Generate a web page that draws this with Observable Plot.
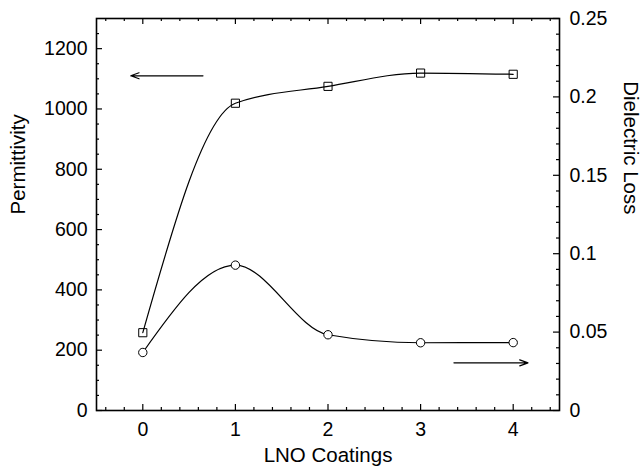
<!DOCTYPE html>
<html>
<head>
<meta charset="utf-8">
<script src="https://cdn.jsdelivr.net/npm/d3@7"></script>
<script src="https://cdn.jsdelivr.net/npm/@observablehq/plot@0.6"></script>
<style>
  html, body { margin: 0; padding: 0; background: #fff; }
  svg { font-family: "Liberation Sans", Arial, sans-serif !important; }
  svg g[aria-label$="tick label"] { font-size: 19.5px !important; }
  svg g[aria-label="text"] { font-size: 20.5px !important; }
</style>
</head>
<body>
<div id="chart"></div>
<script>
const coatings = [0, 1, 2, 3, 4];
const permittivity = [258, 1019, 1075, 1119, 1115];
const dielectricLoss = [0.037, 0.0927, 0.0483, 0.0432, 0.0433];

const xTicks = [0, 1, 2, 3, 4];
const permTicks = [0, 200, 400, 600, 800, 1000, 1200];
const lossTicks = [0, 0.05, 0.1, 0.15, 0.2, 0.25];
const lossTickLabels = ["0", "0.05", "0.1", "0.15", "0.2", "0.25"];

const permMax = 1300;
const lossMax = 0.25;
const k = permMax / lossMax; // map loss onto the permittivity scale

// annotation arrows
const arrowLeft = [{x1: 0.65, x2: -0.13, v: 1110}];
const arrowRight = [{x1: 3.36, x2: 4.16, v: 0.0304}];

const xMinor = d3.range(-0.4, 4.5, 0.2).map(v => Math.round(v * 10) / 10).filter(v => Math.abs(v - Math.round(v)) > 1e-6);
const yMinor = d3.range(50, 1300, 50).filter(v => v % 200 !== 0);
const rMinor = d3.range(1, 25).filter(v => v % 5 !== 0).map(v => v * 0.01 * k);

const permData = coatings.map((c, i) => ({x: c, y: permittivity[i]}));
const lossData = coatings.map((c, i) => ({x: c, y: dielectricLoss[i] * k}));

const pxY = 392 / permMax;
const pxX = 463 / 5;
const chart = Plot.plot({
  width: 644,
  height: 473,
  marginLeft: 96,
  marginRight: 85,
  marginTop: 18,
  marginBottom: 63,
  style: {fontFamily: "Liberation Sans, Arial, sans-serif", fontSize: "19.5px", background: "#fff", color: "#000"},
  x: {domain: [-0.5, 4.5]},
  y: {domain: [0, permMax]},
  marks: [
    // labels
    Plot.axisX({ticks: xTicks, tickSize: 0, tickPadding: 12, fontSize: 19.5, label: null, tickFormat: d => String(d)}),
    Plot.axisY({anchor: "left", ticks: permTicks, tickSize: 0, tickPadding: 9, fontSize: 19.5, label: null, tickFormat: d => String(d)}),
    Plot.axisY({anchor: "right", ticks: lossTicks.map(v => v * k), tickSize: 0, tickPadding: 10, fontSize: 19.5, label: null, tickFormat: (d, i) => lossTickLabels[i]}),
    // inward ticks
    Plot.ruleX(xTicks, {x: d => d, y1: 0, y2: 6 / pxY, stroke: "#000", strokeWidth: 1.2}),
    Plot.ruleX(xTicks, {x: d => d, y1: permMax, y2: permMax - 6 / pxY, stroke: "#000", strokeWidth: 1.2}),
    Plot.ruleX(xMinor, {x: d => d, y1: 0, y2: 3 / pxY, stroke: "#000", strokeWidth: 1.2}),
    Plot.ruleX(xMinor, {x: d => d, y1: permMax, y2: permMax - 3 / pxY, stroke: "#000", strokeWidth: 1.2}),
    Plot.ruleY(permTicks, {y: d => d, x1: -0.5, x2: -0.5 + 6 / pxX, stroke: "#000", strokeWidth: 1.2}),
    Plot.ruleY(yMinor, {y: d => d, x1: -0.5, x2: -0.5 + 3 / pxX, stroke: "#000", strokeWidth: 1.2}),
    Plot.ruleY(lossTicks.map(v => v * k), {y: d => d, x1: 4.5, x2: 4.5 - 6 / pxX, stroke: "#000", strokeWidth: 1.2}),
    Plot.ruleY(rMinor, {y: d => d, x1: 4.5, x2: 4.5 - 3 / pxX, stroke: "#000", strokeWidth: 1.2}),
    Plot.frame({stroke: "#000", strokeWidth: 1.6}),
    // curves
    Plot.line(permData, {x: "x", y: "y", curve: "monotone-x", stroke: "#000", strokeWidth: 1.2}),
    Plot.line(lossData, {x: "x", y: "y", curve: "monotone-x", stroke: "#000", strokeWidth: 1.2}),
    Plot.dot(permData, {x: "x", y: "y", symbol: "square", r: 4.6, stroke: "#000", fill: "none", strokeWidth: 1}),
    Plot.dot(lossData, {x: "x", y: "y", symbol: "circle", r: 4.2, stroke: "#000", fill: "#fff", strokeWidth: 1}),
    // arrows
    Plot.arrow(arrowLeft, {x1: "x1", x2: "x2", y1: "v", y2: "v", stroke: "#000", strokeWidth: 1.2, headLength: 11, headAngle: 40}),
    Plot.arrow(arrowRight, {x1: "x1", x2: "x2", y1: d => d.v * k, y2: d => d.v * k, stroke: "#000", strokeWidth: 1.2, headLength: 11, headAngle: 40}),
    // titles
    Plot.text(["LNO Coatings"], {frameAnchor: "bottom", dy: 51, text: d => d, fontSize: 20.5, fill: "#000"}),
    Plot.text(["Permittivity"], {frameAnchor: "left", dx: -78, rotate: -90, text: d => d, fontSize: 20.5, fill: "#000"}),
    Plot.text(["Dielectric Loss"], {frameAnchor: "right", dx: 71, rotate: 90, text: d => d, fontSize: 20.5, fill: "#000"})
  ]
});
document.getElementById("chart").appendChild(chart);
</script>
</body>
</html>
